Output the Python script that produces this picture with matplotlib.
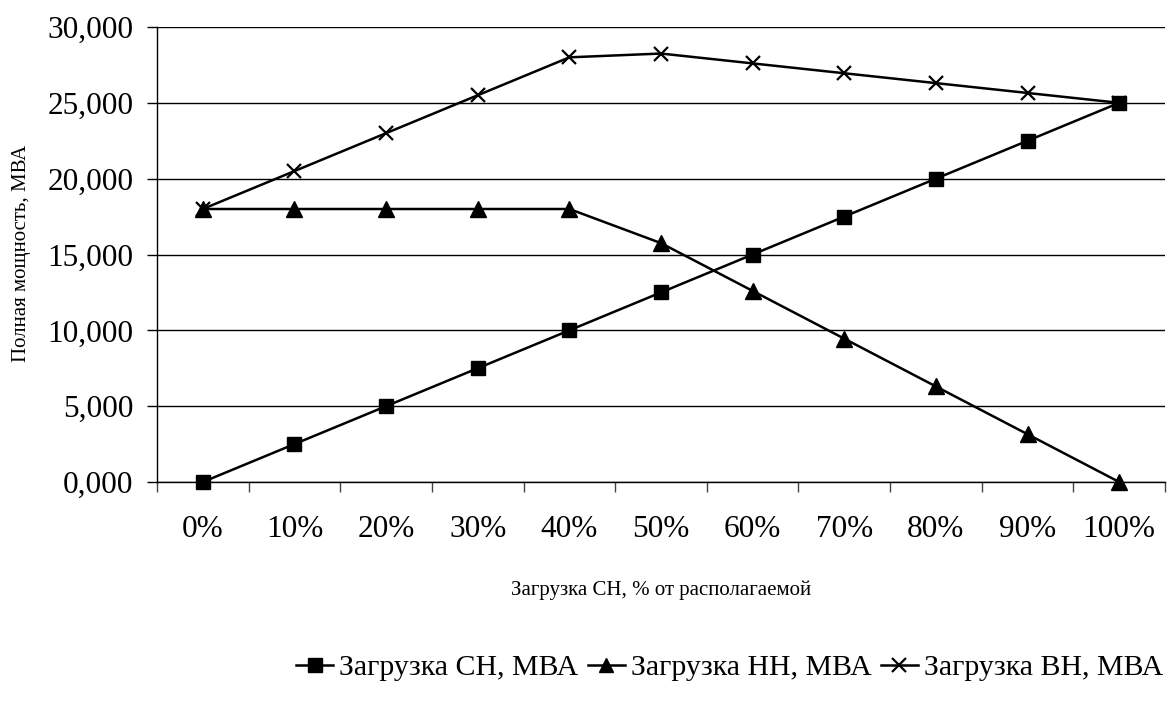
import matplotlib
matplotlib.use("Agg")
import matplotlib.pyplot as plt
import numpy as np

categories = ["0%", "10%", "20%", "30%", "40%", "50%", "60%", "70%", "80%", "90%", "100%"]
load_ch = [0, 2500, 5000, 7500, 10000, 12500, 15000, 17500, 20000, 22500, 25000]
load_hh = [18000, 18000, 18000, 18000, 18000, 15750, 12600, 9450, 6300, 3150, 0]
load_vh = [18000, 20500, 23000, 25500, 28000, 28250, 27600, 26950, 26300, 25650, 25000]
series_names = ["Загрузка СН, МВА", "Загрузка НН, МВА", "Загрузка ВН, МВА"]
yticks = [0, 5000, 10000, 15000, 20000, 25000, 30000]
ytick_labels = ["0,000", "5,000", "10,000", "15,000", "20,000", "25,000", "30,000"]

plt.rcParams['font.family'] = ['Liberation Serif', 'DejaVu Serif']

W, H = 1169, 708
fig = plt.figure(figsize=(W / 100, H / 100), dpi=100)
ax = fig.add_axes([157 / W, 1 - 482 / H, (1165 - 157) / W, (482 - 27) / H])

x = np.arange(len(categories))
ax.plot(x, load_ch, color='black', lw=1.8, marker='s', ms=10.5, label=series_names[0], clip_on=False, zorder=3)
ax.plot(x, load_hh, color='black', lw=1.8, marker='^', ms=11.5, label=series_names[1], clip_on=False, zorder=3)
ax.plot(x, load_vh, color='black', lw=1.8, marker='x', ms=10.5, mew=1.6, label=series_names[2], clip_on=False, zorder=3)

ax.set_xlim(-0.5, len(categories) - 0.5)
ax.set_ylim(0, 30000)
ax.set_yticks(yticks)
ax.set_yticklabels(ytick_labels, fontsize=22.5)
ax.yaxis.grid(True, color='black', lw=1.0)
ax.set_axisbelow(True)

ax.set_xticks(np.arange(-0.5, len(categories), 1.0))
ax.set_xticklabels([])
ax.set_xticks(x, minor=True)
ax.set_xticklabels(categories, minor=True, fontsize=22.5)
ax.tick_params(axis='x', which='major', direction='out', length=7, width=1, color='#444444')
ax.tick_params(axis='x', which='minor', length=0, pad=24)
ax.tick_params(axis='y', direction='out', length=7, width=1, pad=10)

for s in ['top', 'right']:
    ax.spines[s].set_visible(False)
ax.spines['left'].set_linewidth(1.0)
ax.spines['bottom'].set_linewidth(1.0)

fig.text(661 / W, 1 - 590 / H, "Загрузка СН, % от располагаемой", ha='center', va='center', fontsize=15)
fig.text(22 / W, 1 - 253 / H, "Полная мощность, МВА", ha='center', va='center', rotation=90, fontsize=15)

fig.legend(loc='center left', bbox_to_anchor=(296 / W, 1 - 668 / H), ncol=3, frameon=False,
           fontsize=21.5, handlelength=1.25, handletextpad=0.2, columnspacing=0.3, borderaxespad=0,
           borderpad=0, markerscale=0.9)

fig.savefig("out.png", dpi=100)
